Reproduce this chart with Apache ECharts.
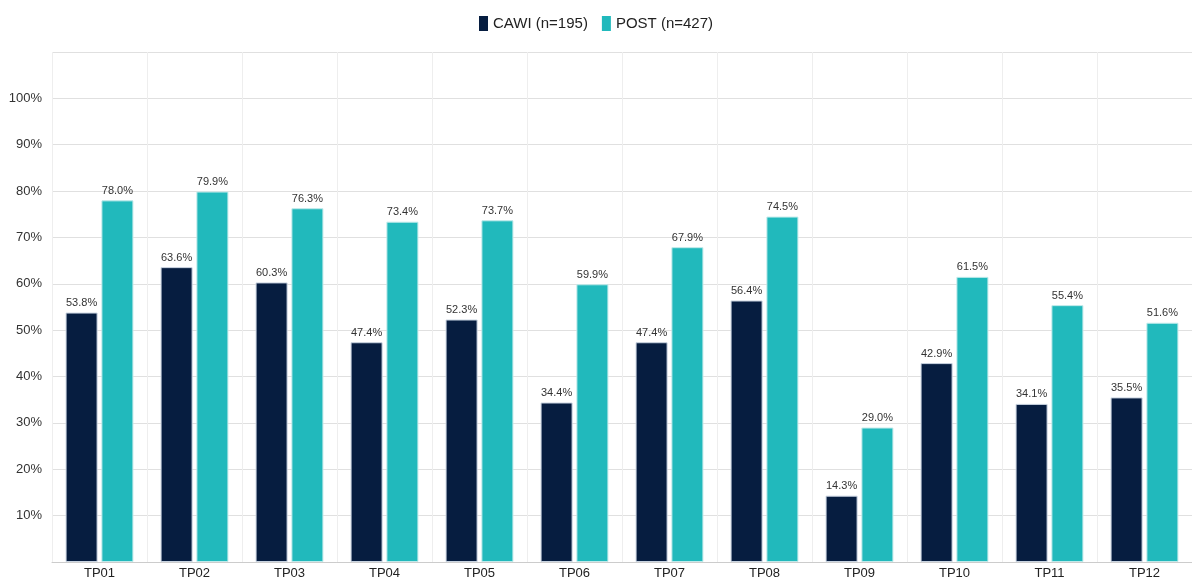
<!DOCTYPE html>
<html><head><meta charset="utf-8">
<script src="https://cdn.jsdelivr.net/npm/echarts@6/dist/echarts.min.js"></script>
<style>html,body{margin:0;padding:0;background:#fff}#c{width:1192px;height:580px}</style>
</head><body><div id="c"></div>
<script>
const categories = ['TP01','TP02','TP03','TP04','TP05','TP06','TP07','TP08','TP09','TP10','TP11','TP12'];
const cawi = [53.8,63.6,60.3,47.4,52.3,34.4,47.4,56.4,14.3,42.9,34.1,35.5];
const post = [78.0,79.9,76.3,73.4,73.7,59.9,67.9,74.5,29.0,61.5,55.4,51.6];
const seriesNames = ['CAWI (n=195)','POST (n=427)'];

const chart = echarts.init(document.getElementById('c'));
const lbl = {show:true,position:'top',distance:4,fontFamily:'Liberation Sans, Arial, sans-serif',fontSize:11,color:'#333',formatter:p=>p.value.toFixed(1)+'%'};
chart.setOption({
  animation:false,
  textStyle:{fontFamily:'Liberation Sans, Arial, sans-serif'},
  legend:{top:11,left:'center',icon:'rect',itemWidth:9,itemHeight:15,itemGap:14,
    itemStyle:{borderWidth:0},
    textStyle:{fontSize:15,color:'#222'},data:seriesNames},
  grid:{left:52,right:-3,top:52,bottom:16,containLabel:false},
  xAxis:{type:'category',data:categories,
    axisLine:{lineStyle:{color:'#ccc'}},axisTick:{show:false},
    axisLabel:{fontSize:13,color:'#222',margin:5},
    splitLine:{show:true,lineStyle:{color:'#eeeeee'}}},
  yAxis:{type:'value',min:0,max:110,interval:10,
    axisLine:{show:false},axisTick:{show:false},
    axisLabel:{fontSize:13,color:'#333',margin:10,formatter:v=>(v===0||v===110)?'':v+'%'},
    splitLine:{lineStyle:{color:'#e0e0e0'}}},
  series:[
    {name:seriesNames[0],type:'bar',data:cawi,barWidth:32,barGap:'12%',
     itemStyle:{color:'#061d40',borderColor:'#c8d3e0',borderWidth:1},label:lbl},
    {name:seriesNames[1],type:'bar',data:post,barWidth:32,
     itemStyle:{color:'#21b9bc',borderColor:'#bfeaea',borderWidth:1},label:lbl}
  ]
});
</script></body></html>
